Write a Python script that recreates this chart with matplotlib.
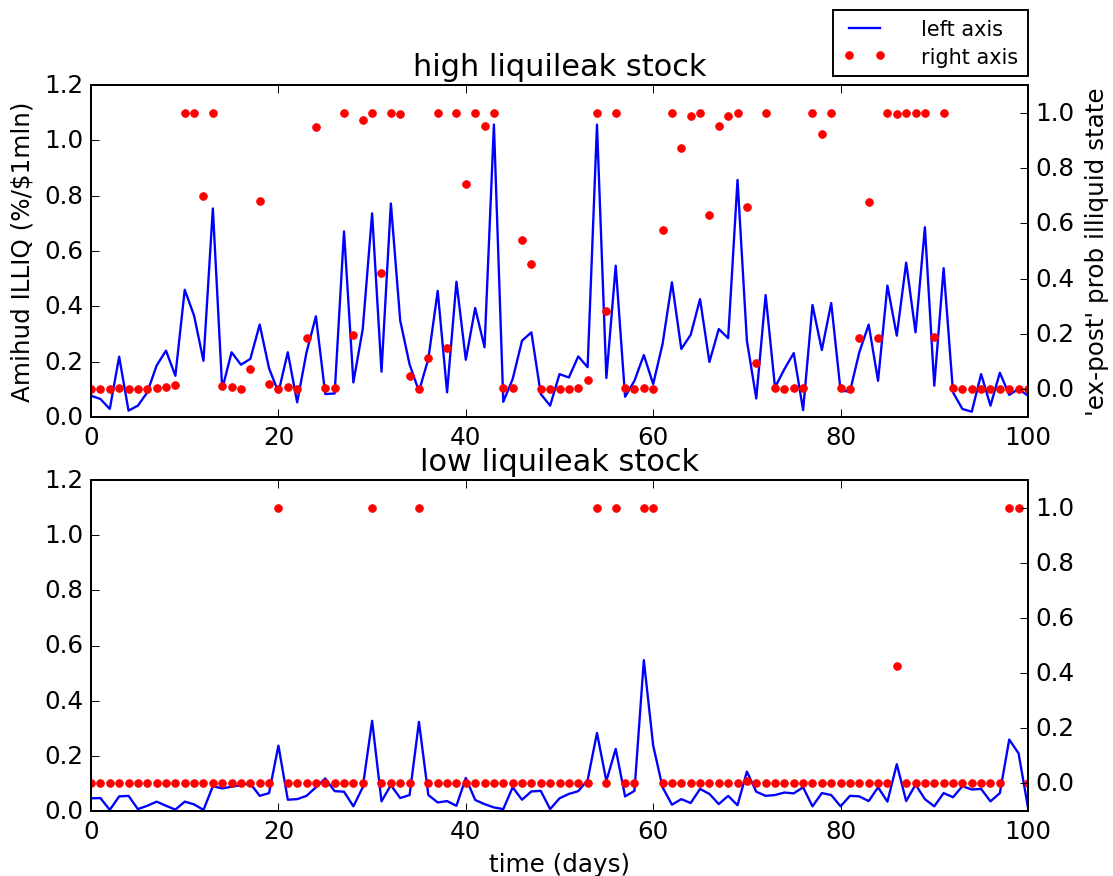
import numpy as np
import matplotlib
matplotlib.use("Agg")
import matplotlib.pyplot as plt

plt.style.use("classic")
plt.rcParams["font.size"] = 12.7

days = np.arange(101)

high_illiq = [
    0.077, 0.065, 0.029, 0.218, 0.023, 0.041, 0.089, 0.186, 0.240, 0.149,
    0.460, 0.366, 0.203, 0.754, 0.101, 0.234, 0.189, 0.210, 0.334, 0.176,
    0.089, 0.234, 0.053, 0.234, 0.364, 0.083, 0.085, 0.671, 0.125, 0.318,
    0.736, 0.164, 0.772, 0.348, 0.190, 0.093, 0.210, 0.456, 0.089, 0.489,
    0.207, 0.394, 0.252, 1.057, 0.055, 0.137, 0.276, 0.306, 0.083, 0.041,
    0.155, 0.143, 0.219, 0.180, 1.057, 0.141, 0.547, 0.073, 0.131, 0.224,
    0.119, 0.264, 0.487, 0.246, 0.297, 0.426, 0.199, 0.318, 0.285, 0.857,
    0.276, 0.067, 0.441, 0.107, 0.173, 0.231, 0.025, 0.405, 0.242, 0.412,
    0.095, 0.092, 0.234, 0.334, 0.131, 0.475, 0.294, 0.558, 0.306, 0.686,
    0.113, 0.538, 0.089, 0.029, 0.019, 0.155, 0.041, 0.160, 0.080, 0.101,
    0.077,
]
high_prob = [
    0.0, 0.0, 0.0, 0.005, 0.0, 0.0, 0.0, 0.004, 0.01, 0.016,
    1.0, 1.0, 0.70, 1.0, 0.012, 0.01, 0.003, 0.072, 0.68, 0.018,
    0.0, 0.008, 0.0, 0.187, 0.947, 0.005, 0.006, 1.0, 0.196, 0.973,
    1.0, 0.42, 1.0, 0.995, 0.05, 0.0, 0.112, 1.0, 0.149, 1.0,
    0.743, 1.0, 0.952, 1.0, 0.004, 0.004, 0.541, 0.454, 0.003, 0.0,
    0.0, 0.0, 0.005, 0.034, 1.0, 0.284, 1.0, 0.005, 0.003, 0.005,
    0.003, 0.576, 1.0, 0.872, 0.988, 1.0, 0.631, 0.952, 0.988, 1.0,
    0.659, 0.094, 1.0, 0.006, 0.003, 0.005, 0.005, 1.0, 0.924, 1.0,
    0.005, 0.002, 0.187, 0.678, 0.185, 1.0, 0.995, 1.0, 0.999, 1.0,
    0.191, 1.0, 0.005, 0.0, 0.0, 0.0, 0.0, 0.0, 0.0, 0.0,
    0.0,
]
low_illiq = [
    0.046, 0.047, 0.004, 0.053, 0.055, 0.007, 0.019, 0.034, 0.019, 0.005,
    0.034, 0.024, 0.004, 0.090, 0.082, 0.088, 0.094, 0.100, 0.055, 0.065,
    0.237, 0.041, 0.043, 0.055, 0.086, 0.118, 0.072, 0.070, 0.017, 0.086,
    0.327, 0.035, 0.094, 0.047, 0.058, 0.323, 0.058, 0.031, 0.036, 0.019,
    0.120, 0.040, 0.025, 0.013, 0.007, 0.086, 0.041, 0.071, 0.073, 0.007,
    0.046, 0.062, 0.072, 0.112, 0.283, 0.109, 0.225, 0.053, 0.073, 0.547,
    0.237, 0.086, 0.023, 0.043, 0.029, 0.080, 0.062, 0.025, 0.055, 0.021,
    0.143, 0.070, 0.055, 0.058, 0.067, 0.064, 0.086, 0.017, 0.065, 0.058,
    0.017, 0.055, 0.053, 0.036, 0.086, 0.034, 0.170, 0.036, 0.096, 0.043,
    0.017, 0.065, 0.050, 0.090, 0.078, 0.080, 0.035, 0.065, 0.259, 0.209,
    0.013,
]
low_prob = [
    0.0, 0.0, 0.0, 0.0, 0.0, 0.0, 0.0, 0.0, 0.0, 0.0,
    0.0, 0.0, 0.0, 0.0, 0.0, 0.0, 0.0, 0.0, 0.0, 0.0,
    1.0, 0.0, 0.0, 0.0, 0.0, 0.0, 0.0, 0.0, 0.0, 0.0,
    1.0, 0.0, 0.0, 0.0, 0.0, 1.0, 0.0, 0.0, 0.0, 0.0,
    0.0, 0.0, 0.0, 0.0, 0.0, 0.0, 0.0, 0.0, 0.0, 0.0,
    0.0, 0.0, 0.0, 0.0, 1.0, 0.0, 1.0, 0.0, 0.0, 1.0,
    1.0, 0.0, 0.0, 0.0, 0.0, 0.0, 0.0, 0.0, 0.0, 0.0,
    0.01, 0.0, 0.0, 0.0, 0.0, 0.0, 0.0, 0.0, 0.0, 0.0,
    0.0, 0.0, 0.0, 0.0, 0.0, 0.0, 0.425, 0.0, 0.0, 0.0,
    0.0, 0.0, 0.0, 0.0, 0.0, 0.0, 0.0, 0.0, 1.0, 1.0,
    0.0,
]

panels = [
    ("high liquileak stock", high_illiq, high_prob),
    ("low liquileak stock", low_illiq, low_prob),
]
positions = [
    [0.0818, 0.5234, 0.8418, 0.3785],
    [0.0818, 0.0741, 0.8418, 0.3774],
]

fig = plt.figure(figsize=(7.95, 6.264), dpi=140, facecolor="white")

for i, (title, illiq, prob) in enumerate(panels):
    ax = fig.add_axes(positions[i])
    ax.plot(days, illiq, "b-", lw=1.2, label="left axis")
    ax.set_xlim(0, 100)
    ax.set_ylim(0, 1.2)
    ax.set_title(title, fontsize=15.6)
    ax2 = ax.twinx()
    ax2.plot(days, prob, "o", color="r", mec="r", ms=3.9, label="right axis")
    ax2.set_ylim(-0.1, 1.1)
    ax2.set_xlim(0, 100)
    if i == 0:
        ax.set_ylabel("Amihud ILLIQ (%/\\$1mln)")
        ax2.set_ylabel("'ex-post' prob illiquid state")
        h1, l1 = ax.get_legend_handles_labels()
        h2, l2 = ax2.get_legend_handles_labels()
        ax2.legend(h1 + h2, l1 + l2, loc="lower right", bbox_to_anchor=(1.0, 1.027),
                   borderaxespad=0, numpoints=2, fontsize=10.7, fancybox=False,
                   borderpad=0.45, labelspacing=0.35, handlelength=2.1,
                   handletextpad=1.7)
    else:
        ax.set_xlabel("time (days)")

fig.savefig("out.png", dpi=140, facecolor="white")
